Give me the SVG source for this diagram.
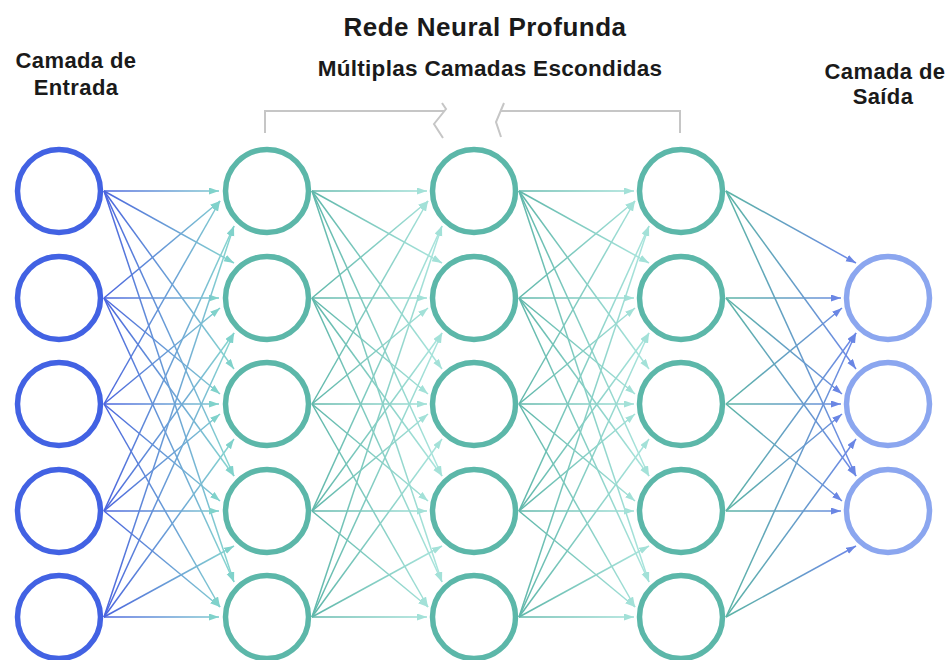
<svg xmlns="http://www.w3.org/2000/svg" width="950" height="660" viewBox="0 0 950 660">
<style>
  .lbl{font-family:"Liberation Sans",Arial,sans-serif;font-weight:bold;fill:#1a1a1a;text-anchor:middle}
  .in{fill:#fff;stroke:#4262e3;stroke-width:5.5}
  .hid{fill:#fff;stroke:#5cb7a9;stroke-width:5.5}
  .out{fill:#fff;stroke:#8ba6ef;stroke-width:5.5}
  .e{fill:none;stroke-width:1.5}
  .g1 line{stroke:url(#gr1);marker-end:url(#m1)}
  .g2 line{stroke:url(#gr2);marker-end:url(#m2)}
  .g4 line{stroke:url(#gr4);marker-end:url(#m4)}
  .br{fill:none;stroke:#c6c6c6;stroke-width:2}
</style>
<defs>
  <linearGradient id="gr1" gradientUnits="userSpaceOnUse" x1="104" y1="0" x2="230" y2="0">
    <stop offset="0" stop-color="#4b64de"/><stop offset="1" stop-color="#86d5cf"/>
  </linearGradient>
  <linearGradient id="gr2" gradientUnits="userSpaceOnUse" x1="104" y1="0" x2="230" y2="0">
    <stop offset="0" stop-color="#5fb7aa"/><stop offset="1" stop-color="#a9e4dc"/>
  </linearGradient>
  <linearGradient id="gr4" gradientUnits="userSpaceOnUse" x1="104" y1="0" x2="230" y2="0">
    <stop offset="0" stop-color="#5cb5a5"/><stop offset="1" stop-color="#6d89e6"/>
  </linearGradient>
  <marker id="m1" markerUnits="userSpaceOnUse" markerWidth="11" markerHeight="8" refX="10" refY="3.5" orient="auto"><path d="M0,0 L10,3.5 L0,7 z" fill="#80d2cb"/></marker>
  <marker id="m2" markerUnits="userSpaceOnUse" markerWidth="11" markerHeight="8" refX="10" refY="3.5" orient="auto"><path d="M0,0 L10,3.5 L0,7 z" fill="#a3e1d8"/></marker>
  <marker id="m4" markerUnits="userSpaceOnUse" markerWidth="11" markerHeight="8" refX="10" refY="3.5" orient="auto"><path d="M0,0 L10,3.5 L0,7 z" fill="#6a86e4"/></marker>
</defs>
<rect width="950" height="660" fill="#fff"/>

<g id="titles">
  <text class="lbl" x="485" y="36" font-size="26" letter-spacing="0.5">Rede Neural Profunda</text>
  <text class="lbl" x="490" y="76" font-size="22.5" letter-spacing="0.3">Múltiplas Camadas Escondidas</text>
  <text class="lbl" x="76" y="68" font-size="22" letter-spacing="0.4">Camada de</text>
  <text class="lbl" x="76" y="95" font-size="22" letter-spacing="0.4">Entrada</text>
  <text class="lbl" x="885" y="79" font-size="22" letter-spacing="0.4">Camada de</text>
  <text class="lbl" x="883" y="104" font-size="22" letter-spacing="0.4">Saída</text>
</g>

<g id="bracket">
  <path class="br" d="M265,133 V111 H444"/>
  <path class="br" d="M442,103 L446,109 L434,124 L443,138"/>
  <path class="br" d="M504,103 L496,122 L501,137"/>
  <path class="br" d="M500,111 H680 V133"/>
</g>

<g id="connectors">
  <g id="gap1" class="e g1">
    <line x1="104" y1="191" x2="219" y2="191"/><line x1="104" y1="191" x2="234" y2="263"/><line x1="104" y1="191" x2="234" y2="369"/><line x1="104" y1="191" x2="234" y2="476"/><line x1="104" y1="191" x2="234" y2="582"/>
    <line x1="104" y1="298" x2="220" y2="201"/><line x1="104" y1="298" x2="219" y2="298"/><line x1="104" y1="298" x2="220" y2="394"/><line x1="104" y1="298" x2="234" y2="476"/><line x1="104" y1="298" x2="234" y2="582"/>
    <line x1="104" y1="404" x2="220" y2="201"/><line x1="104" y1="404" x2="220" y2="308"/><line x1="104" y1="404" x2="219" y2="404"/><line x1="104" y1="404" x2="220" y2="501"/><line x1="104" y1="404" x2="220" y2="607"/>
    <line x1="104" y1="511" x2="234" y2="226"/><line x1="104" y1="511" x2="234" y2="333"/><line x1="104" y1="511" x2="220" y2="414"/><line x1="104" y1="511" x2="219" y2="511"/><line x1="104" y1="511" x2="220" y2="607"/>
    <line x1="104" y1="617" x2="234" y2="226"/><line x1="104" y1="617" x2="234" y2="333"/><line x1="104" y1="617" x2="234" y2="439"/><line x1="104" y1="617" x2="234" y2="546"/><line x1="104" y1="617" x2="219" y2="617"/>
  </g>
  <g id="gap2" class="e g2" transform="translate(208,0)">
    <line x1="104" y1="191" x2="219" y2="191"/><line x1="104" y1="191" x2="234" y2="263"/><line x1="104" y1="191" x2="234" y2="369"/><line x1="104" y1="191" x2="234" y2="476"/><line x1="104" y1="191" x2="234" y2="582"/>
    <line x1="104" y1="298" x2="220" y2="201"/><line x1="104" y1="298" x2="219" y2="298"/><line x1="104" y1="298" x2="220" y2="394"/><line x1="104" y1="298" x2="234" y2="476"/><line x1="104" y1="298" x2="234" y2="582"/>
    <line x1="104" y1="404" x2="220" y2="201"/><line x1="104" y1="404" x2="220" y2="308"/><line x1="104" y1="404" x2="219" y2="404"/><line x1="104" y1="404" x2="220" y2="501"/><line x1="104" y1="404" x2="220" y2="607"/>
    <line x1="104" y1="511" x2="234" y2="226"/><line x1="104" y1="511" x2="234" y2="333"/><line x1="104" y1="511" x2="220" y2="414"/><line x1="104" y1="511" x2="219" y2="511"/><line x1="104" y1="511" x2="220" y2="607"/>
    <line x1="104" y1="617" x2="234" y2="226"/><line x1="104" y1="617" x2="234" y2="333"/><line x1="104" y1="617" x2="234" y2="439"/><line x1="104" y1="617" x2="234" y2="546"/><line x1="104" y1="617" x2="219" y2="617"/>
  </g>
  <g id="gap3" class="e g2" transform="translate(415,0)">
    <line x1="104" y1="191" x2="219" y2="191"/><line x1="104" y1="191" x2="234" y2="263"/><line x1="104" y1="191" x2="234" y2="369"/><line x1="104" y1="191" x2="234" y2="476"/><line x1="104" y1="191" x2="234" y2="582"/>
    <line x1="104" y1="298" x2="220" y2="201"/><line x1="104" y1="298" x2="219" y2="298"/><line x1="104" y1="298" x2="220" y2="394"/><line x1="104" y1="298" x2="234" y2="476"/><line x1="104" y1="298" x2="234" y2="582"/>
    <line x1="104" y1="404" x2="220" y2="201"/><line x1="104" y1="404" x2="220" y2="308"/><line x1="104" y1="404" x2="219" y2="404"/><line x1="104" y1="404" x2="220" y2="501"/><line x1="104" y1="404" x2="220" y2="607"/>
    <line x1="104" y1="511" x2="234" y2="226"/><line x1="104" y1="511" x2="234" y2="333"/><line x1="104" y1="511" x2="220" y2="414"/><line x1="104" y1="511" x2="219" y2="511"/><line x1="104" y1="511" x2="220" y2="607"/>
    <line x1="104" y1="617" x2="234" y2="226"/><line x1="104" y1="617" x2="234" y2="333"/><line x1="104" y1="617" x2="234" y2="439"/><line x1="104" y1="617" x2="234" y2="546"/><line x1="104" y1="617" x2="219" y2="617"/>
  </g>
  <g id="gap4" class="e g4" transform="translate(622,0)">
    <line x1="104" y1="191" x2="234" y2="263"/><line x1="104" y1="191" x2="234" y2="369"/><line x1="104" y1="191" x2="234" y2="476"/>
    <line x1="104" y1="298" x2="219" y2="298"/><line x1="104" y1="298" x2="220" y2="394"/><line x1="104" y1="298" x2="234" y2="476"/>
    <line x1="104" y1="404" x2="220" y2="308"/><line x1="104" y1="404" x2="219" y2="404"/><line x1="104" y1="404" x2="220" y2="501"/>
    <line x1="104" y1="511" x2="234" y2="333"/><line x1="104" y1="511" x2="220" y2="414"/><line x1="104" y1="511" x2="219" y2="511"/>
    <line x1="104" y1="617" x2="234" y2="333"/><line x1="104" y1="617" x2="234" y2="439"/><line x1="104" y1="617" x2="234" y2="546"/>
  </g>
</g>

<g id="input-layer">
  <g id="in1"><circle class="in" cx="59" cy="191" r="41.5"/></g>
  <g id="in2"><circle class="in" cx="59" cy="298" r="41.5"/></g>
  <g id="in3"><circle class="in" cx="59" cy="404" r="41.5"/></g>
  <g id="in4"><circle class="in" cx="59" cy="511" r="41.5"/></g>
  <g id="in5"><circle class="in" cx="59" cy="617" r="41.5"/></g>
</g>
<g id="hidden-1">
  <g id="h1n1"><circle class="hid" cx="267" cy="191" r="41.5"/></g>
  <g id="h1n2"><circle class="hid" cx="267" cy="298" r="41.5"/></g>
  <g id="h1n3"><circle class="hid" cx="267" cy="404" r="41.5"/></g>
  <g id="h1n4"><circle class="hid" cx="267" cy="511" r="41.5"/></g>
  <g id="h1n5"><circle class="hid" cx="267" cy="617" r="41.5"/></g>
</g>
<g id="hidden-2">
  <g id="h2n1"><circle class="hid" cx="474" cy="191" r="41.5"/></g>
  <g id="h2n2"><circle class="hid" cx="474" cy="298" r="41.5"/></g>
  <g id="h2n3"><circle class="hid" cx="474" cy="404" r="41.5"/></g>
  <g id="h2n4"><circle class="hid" cx="474" cy="511" r="41.5"/></g>
  <g id="h2n5"><circle class="hid" cx="474" cy="617" r="41.5"/></g>
</g>
<g id="hidden-3">
  <g id="h3n1"><circle class="hid" cx="681" cy="191" r="41.5"/></g>
  <g id="h3n2"><circle class="hid" cx="681" cy="298" r="41.5"/></g>
  <g id="h3n3"><circle class="hid" cx="681" cy="404" r="41.5"/></g>
  <g id="h3n4"><circle class="hid" cx="681" cy="511" r="41.5"/></g>
  <g id="h3n5"><circle class="hid" cx="681" cy="617" r="41.5"/></g>
</g>
<g id="output-layer">
  <g id="out1"><circle class="out" cx="888" cy="298" r="41.5"/></g>
  <g id="out2"><circle class="out" cx="888" cy="404" r="41.5"/></g>
  <g id="out3"><circle class="out" cx="888" cy="511" r="41.5"/></g>
</g>
</svg>
